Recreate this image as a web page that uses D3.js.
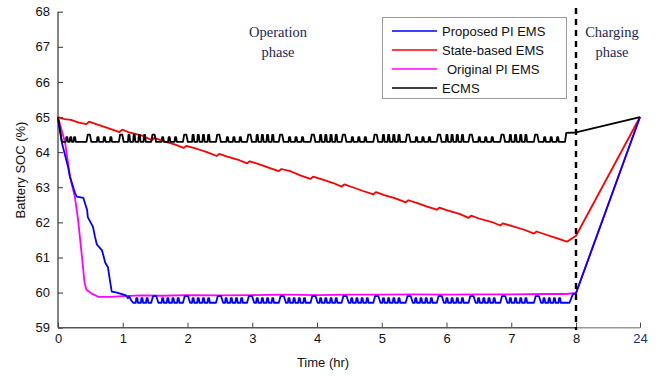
<!DOCTYPE html>
<html>
<head>
<meta charset="utf-8">
<script src="https://cdn.jsdelivr.net/npm/d3@7"></script>
<style>
  body { margin: 0; background: #fff; }
  svg { display: block; }
  .tick text { font-family: "Liberation Sans", Arial, sans-serif; font-size: 13px; fill: #111; }
  .lbl { font-family: "Liberation Sans", Arial, sans-serif; font-size: 13px; fill: #111; }
  .phase { font-family: "Liberation Serif", "Times New Roman", serif; font-size: 14.5px; fill: #1c2750; }
</style>
</head>
<body>
<div class="chart"></div>
<script>
var svgWidth = 671;
var svgHeight = 376;

// axis ticks
var xTicks = [0, 1, 2, 3, 4, 5, 6, 7, 8, 24];
var yTicks = [59, 60, 61, 62, 63, 64, 65, 66, 67, 68];

var seriesNames = ['Proposed PI EMS', 'State-based EMS', 'Original PI EMS', 'ECMS'];
var seriesColors = ['#0000ff', '#ff0000', '#ff00ff', '#000000'];

// Proposed PI EMS: initial descent, then noisy band
var blueHead = [[0, 64.95], [0.06, 64.27], [0.155, 63.58], [0.185, 63.3], [0.26, 62.85], [0.29, 62.73],
  [0.39, 62.7], [0.45, 62.35], [0.46, 62.15], [0.54, 61.87], [0.57, 61.6], [0.6, 61.37], [0.68, 61.2],
  [0.73, 60.85], [0.77, 60.73], [0.8, 60.37], [0.83, 60.03], [0.91, 60.0], [1.0, 59.95], [1.05, 59.92],
  [1.08, 59.84], [1.1, 59.9], [1.13, 59.78], [1.16, 59.71]];
var blueBase = 59.71;
var bluePlateaus = [1.44, 1.93, 2.44, 2.92, 3.41, 3.9, 4.38, 4.87, 5.37, 5.85, 6.34, 6.83, 7.35];
var bluePlateauTop = 59.9;
var blueSpikes = [1.2, 1.28, 1.36, 1.6, 1.68, 1.76, 1.84, 2.07, 2.15, 2.23, 2.31, 2.58, 2.66, 2.74, 2.82,
  3.06, 3.14, 3.22, 3.3, 3.55, 3.63, 3.71, 3.79, 4.04, 4.12, 4.2, 4.28, 4.52, 4.6, 4.68, 4.76,
  5.01, 5.09, 5.17, 5.25, 5.51, 5.59, 5.67, 5.75, 5.99, 6.07, 6.15, 6.23, 6.48, 6.56, 6.64, 6.72,
  6.97, 7.05, 7.13, 7.21, 7.49, 7.57, 7.65, 7.73];
var blueSpikeTop = 59.84;
var blueTail = [[7.9, 59.71], [7.95, 59.95], [8, 59.98], [24, 65]];

// State-based EMS
var redT = [0, 0.1, 0.2, 0.32, 0.44, 0.48, 0.6, 0.75, 0.95, 0.99, 1.1, 1.3, 1.45, 1.49, 1.6, 1.8, 1.94, 1.98,
  2.15, 2.3, 2.45, 2.49, 2.6, 2.8, 2.92, 2.96, 3.1, 3.25, 3.41, 3.45, 3.6, 3.75, 3.9, 3.94, 4.1, 4.25,
  4.38, 4.42, 4.55, 4.7, 4.87, 4.91, 5.05, 5.2, 5.37, 5.41, 5.55, 5.7, 5.85, 5.89, 6.0, 6.2, 6.34, 6.38,
  6.5, 6.7, 6.83, 6.87, 7.0, 7.2, 7.35, 7.39, 7.55, 7.7, 7.86, 8, 24];
var redV = [65.0, 64.94, 64.92, 64.84, 64.8, 64.87, 64.79, 64.7, 64.57, 64.64, 64.56, 64.47, 64.34, 64.41,
  64.33, 64.22, 64.12, 64.18, 64.09, 64.0, 63.89, 63.95, 63.88, 63.77, 63.68, 63.74, 63.66, 63.56,
  63.46, 63.52, 63.45, 63.33, 63.24, 63.3, 63.21, 63.12, 63.02, 63.08, 63.0, 62.9, 62.8, 62.86, 62.77,
  62.69, 62.57, 62.63, 62.55, 62.45, 62.36, 62.42, 62.35, 62.24, 62.13, 62.19, 62.11, 62.01, 61.91,
  61.97, 61.9, 61.79, 61.68, 61.74, 61.64, 61.55, 61.45, 61.62, 65];

// Original PI EMS
var magT = [0, 0.015, 0.11, 0.185, 0.26, 0.31, 0.37, 0.41, 0.44, 0.52, 0.62, 0.8, 1.0, 1.3, 1.6, 2.0, 2.5,
  3.0, 3.5, 4.0, 4.5, 5.0, 5.5, 6.0, 6.5, 7.0, 7.5, 7.85, 8, 24];
var magV = [64.95, 64.9, 64.27, 63.3, 62.73, 62.07, 61.02, 60.28, 60.08, 59.97, 59.88, 59.88, 59.9, 59.92,
  59.91, 59.93, 59.92, 59.93, 59.94, 59.93, 59.94, 59.94, 59.95, 59.94, 59.95, 59.95, 59.96, 59.96, 59.99, 65];

// ECMS: base level with plateaus and short spikes
var ecmsHead = [[0, 65], [0.06, 64.29]];
var ecmsBase = 64.29;
var ecmsPlateaus = [0.44, 0.94, 1.44, 1.93, 2.44, 2.92, 3.41, 3.9, 4.38, 4.87, 5.37, 5.85, 6.34, 6.83, 7.35];
var ecmsPlateauTop = 64.5;
var ecmsSpikesLow = [0.12, 0.18, 0.24, 0.6, 0.7, 0.8, 1.6, 1.7, 1.8, 2.6, 2.7, 2.8, 3.56, 3.66, 3.76,
  4.53, 4.63, 4.73, 5.52, 5.62, 5.72, 6.49, 6.59, 6.69, 7.5, 7.6, 7.7];
var ecmsSpikeLowTop = 64.43;
var ecmsSpikesHigh = [1.08, 1.16, 1.24, 1.32, 2.07, 2.15, 2.23, 2.31, 3.06, 3.14, 3.22, 3.3,
  4.04, 4.12, 4.2, 4.28, 5.01, 5.09, 5.17, 5.25, 5.99, 6.07, 6.15, 6.23, 6.97, 7.05, 7.13, 7.21];
var ecmsSpikeHighTop = 64.49;
var ecmsTail = [[7.83, 64.29], [7.85, 64.55], [8, 64.56], [24, 65]];

var svg = d3.select('.chart')
  .append('svg')
  .attr('width', svgWidth)
  .attr('height', svgHeight);

var x = d3.scaleLinear().domain([0, 8, 24]).range([58, 576, 640]);
var y = d3.scaleLinear().domain([59, 68]).range([327.7, 11.7]);

// turn a base level plus pulse list into a polyline
function pulses(base, list) {
  var pts = [];
  list.sort(function(a, b) { return a[0] - b[0]; }).forEach(function(p) {
    var t = p[0], w = p[1], top = p[2];
    pts.push([t, base], [t + w * 0.25, top], [t + w * 0.7, top], [t + w, base]);
  });
  return pts;
}

var ecmsPulses = ecmsPlateaus.map(function(t) { return [t, 0.075, ecmsPlateauTop]; })
  .concat(ecmsSpikesLow.map(function(t) { return [t, 0.035, ecmsSpikeLowTop]; }))
  .concat(ecmsSpikesHigh.map(function(t) { return [t, 0.035, ecmsSpikeHighTop]; }));
var ecmsData = ecmsHead.concat(pulses(ecmsBase, ecmsPulses), ecmsTail);

var bluePulses = bluePlateaus.map(function(t) { return [t, 0.11, bluePlateauTop]; })
  .concat(blueSpikes.map(function(t) { return [t, 0.035, blueSpikeTop]; }));
var blueData = blueHead.concat(pulses(blueBase, bluePulses), blueTail);

var redData = redT.map(function(t, i) { return [t, redV[i]]; });
var magData = magT.map(function(t, i) { return [t, magV[i]]; });

// axes
var leftAxis = d3.axisLeft(y).tickValues(yTicks).tickSizeInner(-5).tickSizeOuter(0).tickPadding(8);
var bottomAxis = d3.axisBottom(x).tickValues(xTicks).tickSizeInner(-5).tickSizeOuter(0).tickPadding(6);

var gy = svg.append('g').attr('transform', 'translate(58,0)').call(leftAxis);
var gx = svg.append('g').attr('transform', 'translate(0,327.7)').call(bottomAxis);
gy.select('.domain').remove();
gx.select('.domain').remove();
gy.selectAll('.tick line').attr('stroke', '#333');
gx.selectAll('.tick line').attr('stroke', '#444');
gx.selectAll('.tick text').filter(function(d) { return d === 24; }).style('fill', '#1c2f6b');

svg.append('line').attr('x1', 58).attr('x2', 58).attr('y1', y(68)).attr('y2', y(59))
  .attr('stroke', '#333').attr('stroke-width', 1.2);
svg.append('line').attr('x1', x(0)).attr('x2', x(8)).attr('y1', y(59)).attr('y2', y(59))
  .attr('stroke', '#555').attr('stroke-width', 1.4);
svg.append('line').attr('x1', x(8)).attr('x2', x(24)).attr('y1', y(59)).attr('y2', y(59))
  .attr('stroke', '#999').attr('stroke-width', 1.4);

// series
var line = d3.line().x(function(d) { return x(d[0]); }).y(function(d) { return y(d[1]); });
var drawOrder = [[magData, 2], [redData, 1], [blueData, 0], [ecmsData, 3]];
drawOrder.forEach(function(s) {
  svg.append('path')
    .datum(s[0])
    .attr('d', line)
    .attr('fill', 'none')
    .attr('stroke', seriesColors[s[1]])
    .attr('stroke-width', 1.8)
    .attr('stroke-linejoin', 'round');
});

// phase separator
svg.append('line')
  .attr('x1', x(8)).attr('x2', x(8))
  .attr('y1', 8).attr('y2', 330)
  .attr('stroke', '#000').attr('stroke-width', 2.4)
  .attr('stroke-dasharray', '6,5');

// phase labels
var phases = [['Operation', 'phase', 278], ['Charging', 'phase', 612]];
phases.forEach(function(p) {
  svg.append('text').attr('class', 'phase').attr('x', p[2]).attr('y', 37)
    .attr('text-anchor', 'middle').text(p[0]);
  svg.append('text').attr('class', 'phase').attr('x', p[2]).attr('y', 57)
    .attr('text-anchor', 'middle').text(p[1]);
});

// legend
var legend = svg.append('g');
legend.append('rect')
  .attr('x', 382.5).attr('y', 17.5).attr('width', 184).attr('height', 81)
  .attr('fill', '#fff').attr('stroke', '#999').attr('stroke-width', 1);
seriesNames.forEach(function(name, i) {
  var ly = 31 + i * 19;
  legend.append('line').attr('x1', 392).attr('x2', 437).attr('y1', ly).attr('y2', ly)
    .attr('stroke', seriesColors[i]).attr('stroke-width', 1.7);
  legend.append('text').attr('class', 'lbl').attr('x', i === 2 ? 447 : 442).attr('y', ly + 5).text(name);
});

// axis titles
svg.append('text').attr('class', 'lbl')
  .attr('transform', 'translate(25,170) rotate(-90)')
  .attr('text-anchor', 'middle')
  .text('Battery SOC (%)');
svg.append('text').attr('class', 'lbl')
  .attr('x', 323).attr('y', 367)
  .attr('text-anchor', 'middle')
  .text('Time (hr)');
</script>
</body>
</html>
